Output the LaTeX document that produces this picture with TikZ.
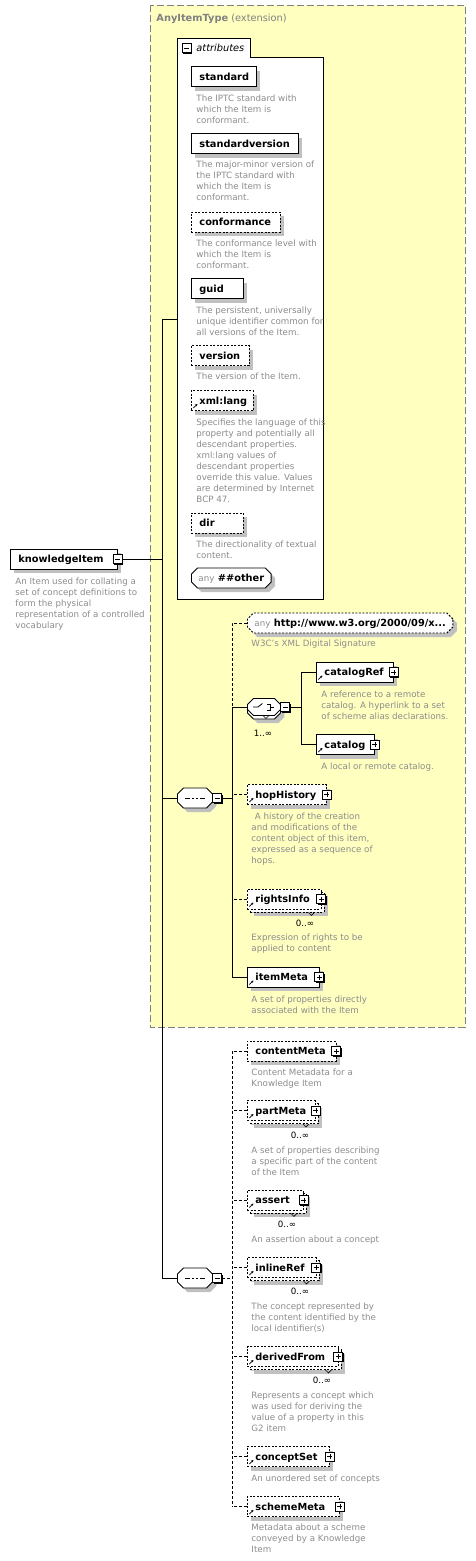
\documentclass[tikz,border=0pt]{standalone}
\usepackage{fontspec}
\setmainfont{DejaVu Sans}
\usetikzlibrary{arrows.meta, positioning, shapes.misc, shadows}

\definecolor{extfill}{RGB}{255,255,192}
\definecolor{extline}{RGB}{128,128,128}
\definecolor{descgray}{RGB}{140,140,140}
\definecolor{shadegray}{RGB}{192,192,192}

\newcommand{\namefont}{\fontsize{9.8}{11}\selectfont\bfseries}
\newcommand{\descfont}{\fontsize{8.7}{11}\selectfont}
\newcommand{\multimark}[1]{\draw[line width=0.6pt] ([shift={(-13pt,-3pt)}]#1.south east) -- ++(3pt,-3pt) -- ++(3pt,3pt);}

\tikzset{
  elem/.style={draw, fill=white, anchor=west, minimum height=20pt, inner xsep=8pt, inner ysep=0pt,
    text height=8pt, text depth=1pt, align=left, font=\namefont,
    drop shadow={shadow xshift=4pt, shadow yshift=-4pt, fill=shadegray, opacity=1}},
  anyelem/.style={chamfered rectangle, chamfered rectangle sep=3pt, draw, fill=white, anchor=west,
    minimum height=20pt, inner xsep=4pt, inner ysep=0pt, text height=8pt, text depth=1pt, font=\namefont,
    drop shadow={shadow xshift=4pt, shadow yshift=-4pt, fill=shadegray, opacity=1}},
  opt/.style={dash pattern=on 2pt off 1.5pt},
  linkopt/.style={dash pattern=on 3pt off 2pt},
  multi/.style={drop shadow={shadow xshift=7pt, shadow yshift=-7pt, fill=shadegray, opacity=1},
    general shadow={shadow xshift=3pt, shadow yshift=-3pt, fill=white, draw=black, dash pattern=on 2pt off 1.5pt}},
  ref/.style={path picture={\draw[-{Stealth[length=2.4pt,width=2.6pt]}, line width=0.7pt, solid]
    ([shift={(2pt,2.5pt)}]path picture bounding box.south west) -- ++(4pt,4pt);}},
  pmbox/.style={draw, fill=white, solid, minimum size=9pt, inner sep=0pt,
    drop shadow={shadow xshift=1pt, shadow yshift=-1pt, fill=black, opacity=1}},
  plusbox/.style={pmbox, path picture={
    \draw[line width=0.8pt] ([xshift=2pt]path picture bounding box.west) -- ([xshift=-2pt]path picture bounding box.east);
    \draw[line width=0.8pt] ([yshift=-2pt]path picture bounding box.north) -- ([yshift=2pt]path picture bounding box.south);}},
  minusbox/.style={pmbox, path picture={
    \draw[line width=0.8pt] ([xshift=2pt]path picture bounding box.west) -- ([xshift=-2pt]path picture bounding box.east);}},
  compositor/.style={chamfered rectangle, chamfered rectangle sep=3pt, draw, fill=white, anchor=west,
    inner xsep=14.5pt, inner ysep=7pt, text height=0pt, text depth=0pt,
    drop shadow={shadow xshift=4pt, shadow yshift=-4pt, fill=shadegray, opacity=1}},
  seqicon/.style={path picture={\begin{scope}[shift={(path picture bounding box.center)}, x=1pt, y=1pt]
    \draw[line width=0.8pt] (-10,0) -- (10,0);
    \foreach \d in {-4,0,4} \fill (\d-1.3,-1.3) rectangle (\d+1.3,1.3);
    \end{scope}}},
  choiceicon/.style={path picture={\begin{scope}[shift={(path picture bounding box.center)}, x=1pt, y=1pt, line width=0.8pt]
    \draw (-11,0) -- (-6,0) -- (-1.5,3.5);
    \foreach \d in {-3,0,3} \fill (0.3,\d-1) rectangle (2.3,\d+1);
    \draw (3.5,3) -- (6,3) -- (6,-3) -- (3.5,-3);
    \draw (6,0) -- (10,0);
    \end{scope}}},
  multicomp/.style={drop shadow={shadow xshift=4pt, shadow yshift=-7.5pt, fill=shadegray, opacity=1},
    general shadow={shadow yshift=-3.5pt, fill=white, draw=black}},
  desc/.style={anchor=north west, inner sep=0pt, align=left, font=\descfont, text=descgray},
  card/.style={inner sep=0pt, font=\descfont}
}

\begin{document}
\begin{tikzpicture}[x=1pt, y=-1pt, line width=0.9pt]
\useasboundingbox (0,0) rectangle (476,1561);

% extension area
\draw[extline, fill=extfill, dash pattern=on 7pt off 3pt] (150,5) rectangle (465,1027);
\node[anchor=west, inner sep=0pt, text=extline, font=\fontsize{9.8}{11}\selectfont] (exttitle) at (156,19)
  {{\bfseries AnyItemType} (extension)};

% attributes group
\draw[fill=white] (177,599) -- (177,38) -- (250,38) -- (250,57) -- (323,57) -- (323,599) -- cycle;
\node[minusbox] (attrpm) at (186.5,48) {};
\node[anchor=west, inner sep=0pt, font=\fontsize{9.8}{11}\selectfont\itshape] (attrtitle) at (196,47.5) {attributes};

\node[elem, text width=49pt] (standard) at (191,76.5) {standard};
\node[desc] (standard-d) at (196,94.5) {The IPTC standard with\\which the Item is\\conformant.};
\node[elem, text width=91pt] (stdversion) at (191,143.5) {standardversion};
\node[desc] (stdversion-d) at (196,160.5) {The major-minor version of\\the IPTC standard with\\which the Item is\\conformant.};
\node[elem, opt, text width=73pt] (conformance) at (191,222) {conformance};
\node[desc] (conformance-d) at (196,239.5) {The conformance level with\\which the Item is\\conformant.};
\node[elem, text width=36pt] (guid) at (191,288.5) {guid};
\node[desc] (guid-d) at (196,306.5) {The persistent, universally\\unique identifier common for\\all versions of the Item.};
\node[elem, opt, text width=42pt] (version) at (191,355.5) {version};
\node[desc] (version-d) at (196,372.5) {The version of the Item.};
\node[elem, opt, ref, text width=46pt] (xmllang) at (191,400.5) {xml:lang};
\node[desc] (xmllang-d) at (196,418.5) {Specifies the language of this\\property and potentially all\\descendant properties.\\xml:lang values of\\descendant properties\\override this value. Values\\are determined by Internet\\BCP 47.};
\node[elem, opt, text width=36pt] (dir) at (191,523) {dir};
\node[desc] (dir-d) at (196,540.5) {The directionality of textual\\content.};
\node[anyelem, minimum width=76pt] (anyother) at (191,578) {{\descfont\mdseries\color{descgray}any}\ \#\#other};

% root element
\node[elem, text width=91pt] (ki) at (10,559) {knowledgeItem};
\node[minusbox] (kipm) at (ki.east) {};
\node[desc] (ki-d) at (15,577.5) {An Item used for collating a\\set of concept definitions to\\form the physical\\representation of a controlled\\vocabulary};

\coordinate (spine-top) at (162,319);
\coordinate (spine-bot) at (162,1278);
\coordinate (attrs-w) at (177,319);
\draw (kipm.east) -- (kipm.east -| spine-top);
\draw (spine-top) -- (attrs-w);

% first sequence
\node[compositor, seqicon] (seq1) at (177,798) {};
\node[minusbox, anchor=west] (seq1pm) at ([xshift=-0.5pt]seq1.east) {};
\draw (seq1.west -| spine-top) -- (seq1.west);
\coordinate (bus1) at (232,623);

\node[anyelem, opt, minimum width=196pt] (anyw3) at (247,623) {{\descfont\mdseries\color{descgray}any}\ http://www.w3.org/2000/09/x...};
\node[desc] (anyw3-d) at (251,639.5) {W3C's XML Digital Signature};

\node[compositor, choiceicon, multicomp, chamfered rectangle sep=3pt, inner xsep=13.5pt, inner ysep=5.5pt] (choice) at (247,707) {};
\node[minusbox, anchor=west] (choicepm) at ([xshift=-0.5pt]choice.east) {};
\draw[line width=0.6pt] (263,715.5) -- (266,718.5) -- (269,715.5);
\node[card] (choice-card) at (263,733) {1..∞};
\coordinate (bus2) at (301,672);

\node[elem, ref, text width=61pt] (catref) at (316,672) {catalogRef};
\node[plusbox] (catrefpm) at (catref.east) {};
\node[desc] (catref-d) at (321,690.5) {A reference to a remote\\catalog. A hyperlink to a set\\of scheme alias declarations.};
\node[elem, ref, text width=42pt] (catalog) at (316,744.5) {catalog};
\node[plusbox] (catalogpm) at (catalog.east) {};
\node[desc] (catalog-d) at (321,762.5) {A local or remote catalog.};

\node[elem, opt, ref, text width=63pt] (hop) at (247,794.5) {hopHistory};
\node[plusbox] (hoppm) at (hop.east) {};
\node[desc] (hop-d) at (251,812.5) {\hspace*{3.5pt}A history of the creation\\and modifications of the\\content object of this item,\\expressed as a sequence of\\hops.};

\node[elem, opt, ref, multi, text width=57.5pt] (rights) at (247,899) {rightsInfo};
\node[plusbox] (rightspm) at (rights.east) {};
\multimark{rights}
\node[card] (rights-card) at (305,923) {0..∞};
\node[desc] (rights-d) at (251,933.5) {Expression of rights to be\\applied to content};

\node[elem, ref, text width=55.5pt] (itemmeta) at (247,977) {itemMeta};
\node[plusbox] (itemmetapm) at (itemmeta.east) {};
\node[desc] (itemmeta-d) at (251,995.5) {A set of properties directly\\associated with the Item};

\draw (seq1pm.east) -- (seq1pm.east -| bus1);
\draw[linkopt] (anyw3.west) -- (anyw3.west -| bus1) -- (choice.west -| bus1);
\draw (choice.west -| bus1) -- (itemmeta.west -| bus1) -- (itemmeta.west);
\draw (choice.west -| bus1) -- (choice.west);
\draw[linkopt] (hop.west) -- (hop.west -| bus1);
\draw[linkopt] (rights.west) -- (rights.west -| bus1);
\draw (choicepm.east) -- (choicepm.east -| bus2);
\draw (catref.west) -- (catref.west -| bus2) -- (catalog.west -| bus2) -- (catalog.west);

% second sequence
\node[compositor, seqicon] (seq2) at (177,1278) {};
\node[minusbox, anchor=west] (seq2pm) at ([xshift=-0.5pt]seq2.east) {};
\draw (spine-top) -- (spine-bot) -- (seq2.west);
\coordinate (bus3) at (232,1051);

\node[elem, opt, text width=72.5pt] (content) at (247,1051) {contentMeta};
\node[plusbox] (contentpm) at (content.east) {};
\node[desc] (content-d) at (251,1068.5) {Content Metadata for a\\Knowledge Item};

\node[elem, opt, ref, multi, text width=52pt] (part) at (247,1110.5) {partMeta};
\node[plusbox] (partpm) at (part.east) {};
\multimark{part}
\node[card] (part-card) at (300,1135) {0..∞};
\node[desc] (part-d) at (251,1146.5) {A set of properties describing\\a specific part of the content\\of the Item};

\node[elem, opt, ref, multi, text width=40pt] (assert) at (247,1200) {assert};
\node[plusbox] (assertpm) at (assert.east) {};
\multimark{assert}
\node[card] (assert-card) at (287,1224) {0..∞};
\node[desc] (assert-d) at (251,1235.5) {An assertion about a concept};

\node[elem, opt, ref, multi, text width=52.5pt] (inlineref) at (247,1267.5) {inlineRef};
\node[plusbox] (inlinerefpm) at (inlineref.east) {};
\multimark{inlineref}
\node[card] (inlineref-card) at (300,1291) {0..∞};
\node[desc] (inlineref-d) at (251,1302.5) {The concept represented by\\the content identified by the\\local identifier(s)};

\node[elem, opt, ref, multi, text width=74.5pt] (derived) at (247,1356.5) {derivedFrom};
\node[plusbox] (derivedpm) at (derived.east) {};
\multimark{derived}
\node[card] (derived-card) at (322,1380) {0..∞};
\node[desc] (derived-d) at (251,1391.5) {Represents a concept which\\was used for deriving the\\value of a property in this\\G2 item};

\node[elem, opt, ref, text width=66pt] (conceptset) at (247,1456.5) {conceptSet};
\node[plusbox] (conceptsetpm) at (conceptset.east) {};
\node[desc] (conceptset-d) at (251,1474.5) {An unordered set of concepts};

\node[elem, opt, ref, text width=76pt] (scheme) at (247,1506.5) {schemeMeta};
\node[plusbox] (schemepm) at (scheme.east) {};
\node[desc] (scheme-d) at (251,1523.5) {Metadata about a scheme\\conveyed by a Knowledge\\Item};

\draw[linkopt] (seq2pm.east) -- (seq2pm.east -| bus3);
\draw[linkopt] (content.west -| bus3) -- (scheme.west -| bus3);
\foreach \n in {content, part, assert, inlineref, derived, conceptset, scheme}
  \draw[linkopt] (\n.west) -- (\n.west -| bus3);
\end{tikzpicture}
\end{document}
